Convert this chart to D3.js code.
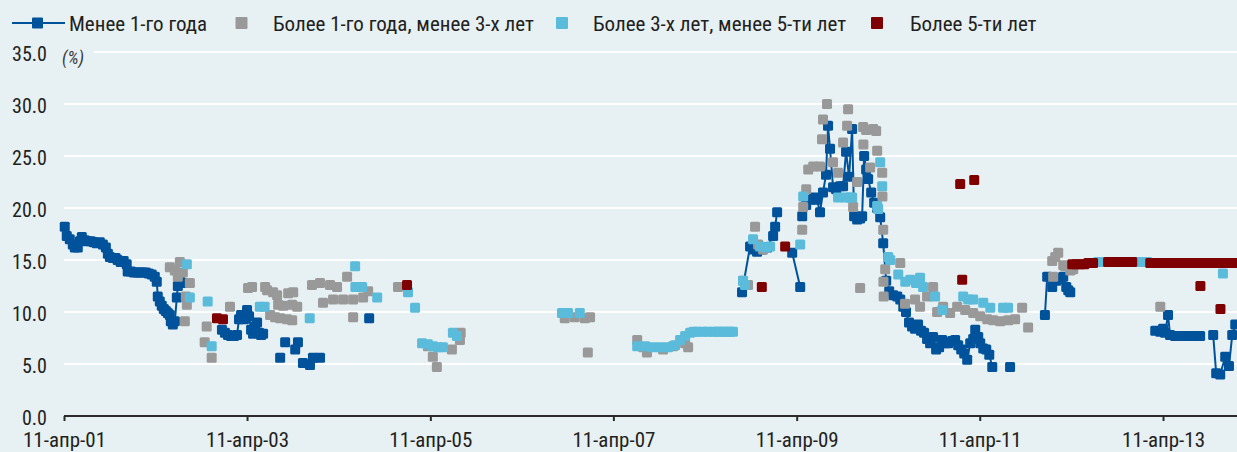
<!DOCTYPE html>
<html><head><meta charset="utf-8">
<script src="https://cdn.jsdelivr.net/npm/d3@7/dist/d3.min.js"></script>
<style>
html,body{margin:0;padding:0;background:#e7f0f2;}
svg{display:block;}
text{font-family:"Roboto Condensed","Liberation Sans Narrow","DejaVu Sans Condensed",sans-serif;fill:#231f20;}
</style></head>
<body>
<svg id="c" width="1237" height="452"></svg>
<script>
const seriesNames = ["Менее 1-го года","Более 1-го года, менее 3-х лет","Более 3-х лет, менее 5-ти лет","Более 5-ти лет"];
const xTickDates = ["2001-04-11","2003-04-11","2005-04-11","2007-04-11","2009-04-11","2011-04-11","2013-04-11"];
const xTickLabels = ["11-апр-01","11-апр-03","11-апр-05","11-апр-07","11-апр-09","11-апр-11","11-апр-13"];
const yTicks = [0,5,10,15,20,25,30,35];
const yUnit = "(%)";

// null = gap in the line
const under1y = [
["2001-04-14",18.2],["2001-04-22",17.3],["2001-05-04",17.0],["2001-05-16",16.5],["2001-05-24",16.2],["2001-06-05",16.2],["2001-06-13",16.8],["2001-06-21",17.2],["2001-07-03",16.9],["2001-07-15",16.8],["2001-07-27",16.8],["2001-08-08",16.7],["2001-08-20",16.6],["2001-09-01",16.7],["2001-09-13",16.5],["2001-09-25",16.2],["2001-10-03",15.6],["2001-10-11",15.3],["2001-10-23",15.2],["2001-11-03",15.2],["2001-11-11",15.0],["2001-11-23",14.8],["2001-12-05",14.9],["2001-12-17",14.6],["2001-12-21",13.9],["2002-01-03",13.9],["2002-01-15",13.8],["2002-01-27",13.8],["2002-02-07",13.8],["2002-02-19",13.8],["2002-03-03",13.8],["2002-03-15",13.7],["2002-03-27",13.6],["2002-04-08",13.4],["2002-04-16",12.9],["2002-04-20",11.5],["2002-04-28",11.0],["2002-05-06",10.6],["2002-05-14",10.3],["2002-05-22",10.1],["2002-05-30",9.9],["2002-06-07",9.7],["2002-06-11",9.1],["2002-06-19",8.8],["2002-06-27",9.1],["2002-07-05",11.4],["2002-07-09",12.5],["2002-07-17",13.0],["2002-07-25",12.8],null,
["2003-01-01",8.3],["2003-01-13",8.0],["2003-01-25",7.8],["2003-02-06",7.7],["2003-02-18",7.7],["2003-03-02",7.8],["2003-03-10",9.3],["2003-03-18",9.7],["2003-03-30",9.3],["2003-04-11",10.2],["2003-04-19",9.6],["2003-04-27",8.3],["2003-05-05",7.9],["2003-05-13",8.6],["2003-05-21",9.0],["2003-05-29",8.0],["2003-06-06",7.8],["2003-06-14",7.9],null,
["2003-08-21",5.6],null,["2003-09-10",7.1],null,["2003-10-20",6.4],null,["2003-10-31",7.1],null,["2003-11-20",5.1],null,["2003-12-18",4.9],["2003-12-30",5.6],null,["2004-01-27",5.6],null,["2004-08-10",9.4],null,
["2008-09-05",11.9],["2008-10-07",16.3],["2008-10-19",16.0],["2008-11-04",15.8],["2008-11-24",16.0],["2008-12-14",16.2],["2009-01-07",17.3],["2009-01-15",18.2],["2009-01-23",19.6],null,
["2009-03-24",15.7],["2009-04-25",12.4],null,
["2009-05-03",19.2],["2009-05-19",20.3],["2009-06-04",20.8],["2009-06-19",21.0],["2009-07-01",20.8],["2009-07-13",19.6],["2009-07-25",21.5],["2009-08-06",23.2],["2009-08-14",27.9],["2009-08-22",25.7],["2009-09-03",22.0],["2009-09-15",21.8],["2009-10-01",22.1],["2009-10-13",22.1],["2009-10-25",25.4],["2009-11-06",23.0],["2009-11-18",27.6],["2009-11-26",19.2],["2009-12-08",18.9],["2009-12-20",19.0],["2009-12-28",19.2],["2010-01-05",25.0],["2010-01-13",23.7],["2010-01-21",22.8],["2010-02-02",21.5],["2010-02-14",20.5],["2010-02-26",20.0],["2010-03-10",19.1],["2010-03-22",16.6],["2010-04-03",13.0],["2010-04-15",12.0],["2010-05-01",11.6],["2010-05-17",11.5],["2010-05-29",11.2],["2010-06-10",10.5],["2010-06-21",10.0],["2010-07-03",9.0],["2010-07-15",8.6],["2010-07-27",8.4],["2010-08-08",8.8],["2010-08-20",8.2],["2010-09-01",8.0],["2010-09-13",7.4],["2010-09-25",7.0],["2010-10-07",7.6],["2010-10-19",6.4],["2010-10-31",6.6],["2010-11-12",7.3],["2010-11-24",7.0],["2010-12-06",7.0],["2010-12-22",7.2],["2011-01-03",7.3],["2011-01-15",6.8],["2011-01-27",6.4],["2011-02-08",6.0],["2011-02-20",5.4],["2011-03-04",7.0],["2011-03-16",7.4],["2011-03-24",8.3],["2011-04-05",7.6],["2011-04-13",7.0],["2011-04-25",6.5],["2011-05-07",6.4],["2011-05-19",5.9],["2011-05-31",4.7],null,
["2011-08-10",4.7],null,
["2011-12-27",9.7],["2012-01-05",13.4],["2012-01-25",12.4],["2012-02-10",13.0],["2012-02-26",13.2],["2012-03-09",13.4],["2012-03-21",12.4],["2012-03-29",12.1],["2012-04-06",11.9],null,
["2013-03-11",8.2],["2013-03-31",8.1],["2013-04-11",8.4],["2013-04-19",8.0],["2013-05-01",9.7],["2013-05-09",7.8],["2013-05-29",7.7],["2013-06-18",7.7],["2013-07-08",7.7],["2013-07-28",7.7],["2013-08-17",7.7],["2013-09-06",7.7],null,
["2013-10-28",7.8],["2013-11-09",4.1],["2013-11-25",4.0],["2013-12-15",5.7],["2013-12-30",4.8],["2014-01-12",7.8],["2014-01-24",8.8]
];

const from1to3y = [
["2002-06-07",14.3],["2002-06-27",14.0],["2002-07-09",13.4],["2002-07-17",14.8],["2002-07-29",13.8],["2002-08-10",11.5],["2002-08-14",10.7],["2002-08-26",12.8],["2002-08-06",9.1],["2002-10-24",7.1],["2002-11-01",8.6],["2002-11-21",5.6],["2003-02-02",10.5],
["2003-04-15",12.3],["2003-05-01",12.4],["2003-06-22",12.4],["2003-06-30",12.1],["2003-07-24",11.9],["2003-08-09",11.6],["2003-09-22",11.8],["2003-10-12",11.9],["2003-07-12",9.7],["2003-08-01",9.5],["2003-08-21",9.4],["2003-09-18",9.3],["2003-10-08",9.2],["2003-08-13",10.7],["2003-09-02",10.6],["2003-10-08",10.7],["2003-10-28",10.5],
["2003-12-26",12.6],["2004-01-27",12.8],["2004-03-07",12.6],["2004-04-04",12.4],["2004-02-08",10.9],["2004-03-19",11.2],["2004-04-28",11.2],["2004-05-14",13.4],["2004-06-07",11.2],["2004-06-07",9.5],["2004-07-17",11.4],["2004-08-06",12.0],["2004-12-03",12.4],
["2005-04-01",6.7],["2005-04-21",5.7],["2005-05-07",4.7],["2005-07-06",6.4],["2005-08-07",7.3],["2005-08-10",8.0],
["2006-09-29",9.4],["2006-11-08",9.5],["2006-12-18",9.4],["2007-01-08",9.5],["2006-12-30",6.1],
["2007-07-15",7.3],["2007-08-08",6.6],["2007-08-23",6.1],["2007-10-26",6.4],["2007-12-05",6.7],["2008-01-22",7.0],["2008-02-03",6.6],
["2008-09-09",13.0],["2008-09-29",12.6],["2008-10-27",18.2],["2008-11-08",16.5],["2008-11-28",16.0],
["2009-05-03",17.9],["2009-05-07",20.1],["2009-05-19",21.8],["2009-05-27",23.7],["2009-06-16",24.0],["2009-07-13",24.0],["2009-07-21",26.6],["2009-07-25",28.5],["2009-08-10",30.0],["2009-09-03",24.4],["2009-09-23",23.4],["2009-10-13",26.3],["2009-10-29",27.9],["2009-11-02",29.5],["2009-11-22",20.1],["2009-12-08",22.5],["2009-12-20",12.3],
["2010-01-01",27.8],["2010-01-02",26.1],["2010-01-13",27.5],["2010-01-29",23.9],["2010-02-10",27.6],["2010-02-22",27.4],["2010-02-26",25.5],["2010-03-18",23.4],["2010-03-19",21.1],["2010-03-22",17.9],["2010-03-30",14.1],["2010-03-23",12.9],["2010-03-24",11.5],
["2010-05-29",14.7],["2010-06-17",10.8],["2010-07-27",11.2],["2010-08-16",10.5],["2010-09-13",11.5],["2010-10-07",12.4],["2010-10-23",10.0],["2010-11-16",10.5],["2010-12-14",9.9],["2011-01-11",10.5],["2011-02-12",10.2],["2011-03-16",9.9],["2011-04-13",9.6],["2011-05-11",9.3],["2011-06-04",9.2],["2011-07-02",9.1],["2011-08-03",9.2],["2011-08-30",9.3],["2011-09-27",10.4],["2011-10-21",8.5],
["2012-01-25",14.9],["2012-01-29",13.4],["2012-02-06",15.3],["2012-02-18",15.7],["2012-03-09",14.5],["2012-03-17",14.4],["2012-04-06",14.0],["2012-04-18",14.1],
["2013-03-31",10.5]
];

const from3to5y = [
["2002-08-14",14.6],["2002-08-26",11.4],["2002-11-05",11.0],["2002-11-21",6.7],["2003-06-01",10.5],["2003-06-20",10.5],["2003-12-17",9.4],
["2004-06-15",14.4],["2004-06-16",12.4],["2004-07-13",12.4],["2004-09-11",11.4],
["2005-01-12",11.9],["2005-02-09",10.4],["2005-03-09",7.0],["2005-04-01",6.9],["2005-04-21",6.7],["2005-05-11",6.6],["2005-05-31",6.6],["2005-07-10",8.0],["2005-07-26",7.7],
["2006-09-18",9.9],["2006-10-12",9.9],["2006-11-28",9.9],
["2007-07-15",6.7],["2007-08-16",6.7],["2007-09-13",6.6],["2007-10-14",6.6],["2007-11-15",6.6],["2007-12-13",6.8],["2008-01-02",7.3],["2008-01-22",7.7],["2008-02-11",8.0],["2008-02-25",8.1],["2008-03-10",8.1],["2008-04-03",8.1],["2008-04-20",8.1],["2008-05-13",8.1],["2008-05-28",8.1],["2008-06-09",8.1],["2008-06-23",8.1],["2008-07-07",8.1],["2008-07-20",8.1],["2008-07-31",8.1],
["2008-09-09",13.0],["2008-09-17",12.6],["2008-10-19",17.0],["2008-11-16",16.3],["2008-12-10",16.2],["2008-12-26",16.3],["2009-04-25",16.5],["2009-05-07",21.1],["2009-09-23",21.0],["2009-10-21",21.0],["2009-11-10",21.0],["2009-11-18",21.0],
["2010-02-26",20.2],["2010-03-10",24.4],["2010-03-18",22.1],["2010-03-02",19.9],["2010-04-11",15.3],["2010-04-19",15.0],["2010-05-21",13.6],["2010-06-18",12.9],["2010-07-08",13.1],["2010-07-31",12.8],["2010-08-16",13.3],["2010-08-28",12.4],["2010-10-15",11.5],["2010-11-12",10.2],
["2011-02-04",11.5],["2011-02-24",11.2],["2011-03-16",11.2],["2011-04-25",10.9],["2011-05-23",10.4],["2011-07-13",10.4],["2011-08-02",10.4],
["2012-07-26",14.8],["2012-08-19",14.8],["2012-12-29",14.8],["2013-01-22",14.8],["2013-02-07",14.8],["2013-12-06",13.7]
];

const over5y = [
["2002-12-12",9.4],["2003-01-05",9.3],["2005-01-08",12.6],["2008-11-23",12.4],["2009-02-24",16.3],["2011-01-23",22.3],["2011-03-20",22.7],["2011-01-31",13.1],
["2012-04-14",14.6],["2012-04-30",14.6],["2012-05-16",14.6],["2012-06-01",14.6],["2012-06-17",14.7],["2012-07-06",14.7],
["2012-09-04",14.8],["2012-09-20",14.8],["2012-10-06",14.8],["2012-10-22",14.8],["2012-11-07",14.8],["2012-11-23",14.8],["2012-12-09",14.8],
["2013-02-19",14.7],["2013-03-07",14.7],["2013-03-23",14.7],["2013-04-08",14.7],["2013-04-24",14.7],["2013-05-10",14.7],["2013-05-26",14.7],["2013-06-11",14.7],["2013-06-27",14.7],["2013-07-13",14.7],["2013-07-29",14.7],["2013-08-14",14.7],["2013-08-30",14.7],["2013-09-15",14.7],["2013-10-01",14.7],["2013-10-17",14.7],["2013-11-02",14.7],["2013-11-18",14.7],["2013-12-04",14.7],["2013-12-20",14.7],["2014-01-04",14.7],["2014-01-20",14.7],
["2013-09-07",12.5],["2013-11-26",10.3]
];

const colors = ["#00529b","#999999","#5bbbdb","#7f0000"];

const parse = d3.timeParse("%Y-%m-%d");
const svg = d3.select("#c");
const W = 1237, H = 452;
const x = d3.scaleTime().domain([parse("2001-04-11"), parse("2014-01-31")]).range([64, 1237]);
const y = d3.scaleLinear().domain([0, 35]).range([416, 52]);

// gridlines
svg.append("g").selectAll("line").data(yTicks.filter(v => v > 0)).join("line")
  .attr("x1", 64).attr("x2", W).attr("y1", d => y(d)).attr("y2", d => y(d))
  .attr("stroke", "#ffffff").attr("stroke-width", 2);

// y labels
svg.append("g").selectAll("text").data(yTicks).join("text")
  .attr("x", 47).attr("y", d => y(d) + 8.5).attr("text-anchor", "end")
  .attr("font-size", 20).text(d => d.toFixed(1));

// unit label
svg.append("rect").attr("x", 56).attr("y", 44).attr("width", 38).attr("height", 22).attr("fill", "#e7f0f2");
svg.append("text").attr("x", 62).attr("y", 64).attr("font-size", 18).attr("font-style", "italic")
  .style("fill", "#3a3a3a").text(yUnit);

// x axis
const xAxis = d3.axisBottom(x)
  .tickValues(xTickDates.map(parse))
  .tickFormat((d, i) => xTickLabels[i])
  .tickSize(5).tickSizeOuter(0);
const gx = svg.append("g").attr("transform", "translate(0,416)").call(xAxis);
gx.select(".domain").attr("stroke", "#2a2a2a").attr("stroke-width", 2).attr("d", `M64,0H${W}`);
gx.selectAll(".tick line").attr("stroke", "#2a2a2a").attr("stroke-width", 2);
gx.selectAll(".tick text").attr("font-size", 21).attr("dy", 0).attr("y", 31)
  .attr("font-family", null).style("fill", "#231f20");

const S = 10;
function drawSquares(data, color) {
  svg.append("g").selectAll("rect").data(data.filter(d => d)).join("rect")
    .attr("x", d => x(parse(d[0])) - S / 2).attr("y", d => y(d[1]) - S / 2)
    .attr("width", S).attr("height", S).attr("rx", 1.5).attr("fill", color);
}

// under 1y line
const line = d3.line().defined(d => d !== null).x(d => x(parse(d[0]))).y(d => y(d[1]));
svg.append("path").datum(under1y).attr("d", line).attr("fill", "none")
  .attr("stroke", colors[0]).attr("stroke-width", 2);
drawSquares(under1y, colors[0]);
drawSquares(from1to3y, colors[1]);
drawSquares(from3to5y, colors[2]);
drawSquares(over5y, colors[3]);

// legend
const lg = svg.append("g");
const ly = 23;
lg.append("line").attr("x1", 12).attr("x2", 65).attr("y1", ly).attr("y2", ly).attr("stroke", colors[0]).attr("stroke-width", 2);
lg.append("rect").attr("x", 32).attr("y", ly - 5.5).attr("width", 11).attr("height", 11).attr("rx", 1).attr("fill", colors[0]);
const legendItems = [
  {sq: null, tx: 69},
  {sq: 241.5, tx: 273},
  {sq: 562, tx: 593},
  {sq: 877, tx: 910}
];
legendItems.forEach((it, i) => {
  if (it.sq !== null) lg.append("rect").attr("x", it.sq - 6).attr("y", ly - 6).attr("width", 12).attr("height", 12).attr("rx", 1).attr("fill", colors[i]);
  lg.append("text").attr("x", it.tx).attr("y", ly + 8).attr("font-size", 21).text(seriesNames[i]);
});
</script>
</body></html>
